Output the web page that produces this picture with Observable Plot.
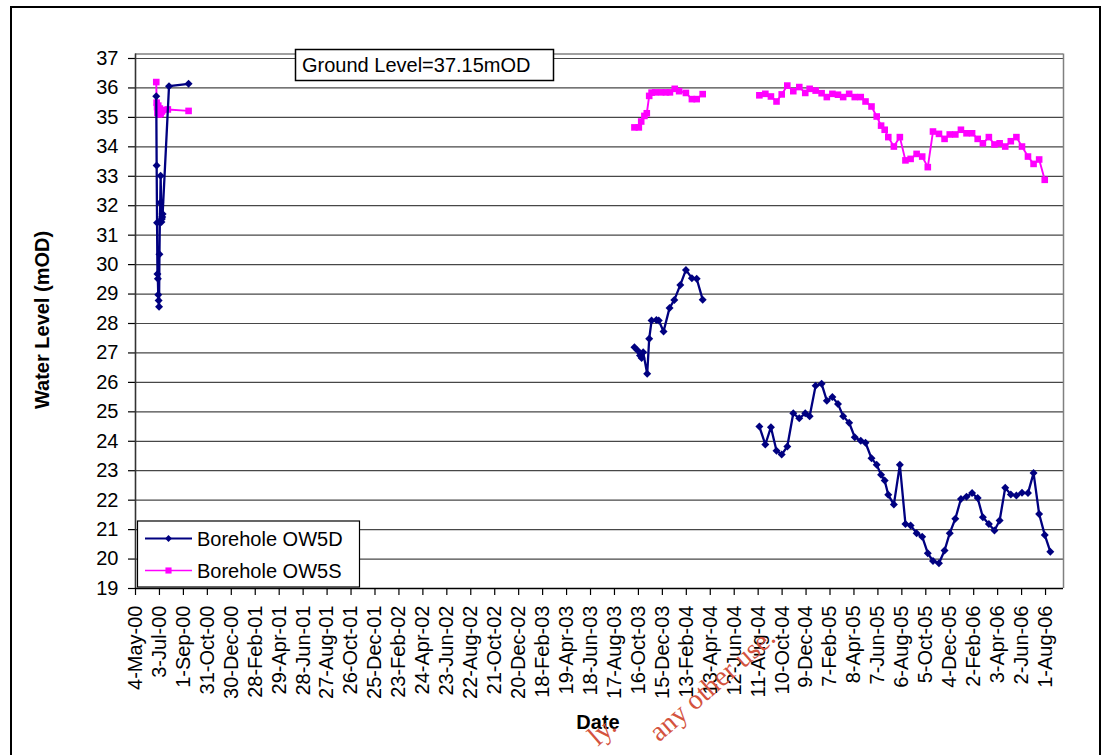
<!DOCTYPE html>
<html>
<head>
<meta charset="utf-8">
<script src="https://cdn.jsdelivr.net/npm/d3@7"></script>
<script src="https://cdn.jsdelivr.net/npm/@observablehq/plot@0.6"></script>
<style>
  body { margin: 0; background: #fff; }
  #wrap { position: relative; width: 1109px; height: 755px; overflow: hidden; background: #fff;
          font-family: "Liberation Sans", Arial, sans-serif; }
  #frame { position: absolute; left: 10px; top: 6px; width: 1091px; height: 820px;
           border: 2px solid #000; box-sizing: border-box; pointer-events: none; }
  #chart { position: absolute; left: 0; top: 0; }
  svg.overlay { position: absolute; left: 0; top: 0; pointer-events: none; }
</style>
</head>
<body>
<div id="wrap">
  <div id="chart"></div>
  <div id="frame"></div>
</div>
<script>
// ---- axis tick labels ----
const xTickLabels = ["4-May-00","3-Jul-00","1-Sep-00","31-Oct-00","30-Dec-00","28-Feb-01","29-Apr-01","28-Jun-01",
  "27-Aug-01","26-Oct-01","25-Dec-01","23-Feb-02","24-Apr-02","23-Jun-02","22-Aug-02","21-Oct-02","20-Dec-02",
  "18-Feb-03","19-Apr-03","18-Jun-03","17-Aug-03","16-Oct-03","15-Dec-03","13-Feb-04","13-Apr-04","12-Jun-04",
  "11-Aug-04","10-Oct-04","9-Dec-04","7-Feb-05","8-Apr-05","7-Jun-05","6-Aug-05","5-Oct-05","4-Dec-05",
  "2-Feb-06","3-Apr-06","2-Jun-06","1-Aug-06"];
const yTicks = [19,20,21,22,23,24,25,26,27,28,29,30,31,32,33,34,35,36,37];
const xDomain = ["2000-05-04", "2006-09-15"];
const yDomain = [19, 37.15];

// ---- Borehole OW5D ----
const ow5dDates2000 = ["2000-06-25","2000-06-26","2000-06-27","2000-06-28","2000-06-29","2000-06-30","2000-07-01",
  "2000-07-02","2000-07-03","2000-07-04","2000-07-05","2000-07-06","2000-07-08","2000-07-09","2000-07-10",
  "2000-07-11","2000-07-27","2000-09-14"];
const ow5dLevels2000 = [35.72,33.37,31.42,29.68,29.52,28.98,28.78,28.57,30.35,31.45,32.10,33.02,31.45,31.55,31.62,
  31.72,36.06,36.14];
const ow5dDates2003 = ["2003-10-06","2003-10-14","2003-10-20","2003-10-24","2003-10-28","2003-11-07","2003-11-12",
  "2003-11-18","2003-11-30","2003-12-06","2003-12-18","2004-01-02","2004-01-14","2004-01-29","2004-02-12",
  "2004-02-27","2004-03-10","2004-03-25"];
const ow5dLevels2003 = [27.19,27.08,26.91,26.83,27.02,26.29,27.48,28.10,28.12,28.10,27.73,28.53,28.80,29.31,29.82,
  29.54,29.52,28.81];
const ow5dDates2004 = ["2004-08-14","2004-08-29","2004-09-12","2004-09-26","2004-10-09","2004-10-23","2004-11-07",
  "2004-11-22","2004-12-07","2004-12-18","2005-01-02","2005-01-17","2005-01-30","2005-02-13","2005-02-27",
  "2005-03-12","2005-03-27","2005-04-10","2005-04-25","2005-05-07","2005-05-22","2005-06-04","2005-06-15",
  "2005-06-24","2005-07-03","2005-07-17","2005-08-01","2005-08-15","2005-08-28","2005-09-12","2005-09-26",
  "2005-10-10","2005-10-23","2005-11-07","2005-11-21","2005-12-04","2005-12-18","2006-01-01","2006-01-15",
  "2006-01-29","2006-02-12","2006-02-25","2006-03-12","2006-03-26","2006-04-08","2006-04-22","2006-05-06",
  "2006-05-20","2006-06-03","2006-06-18","2006-07-02","2006-07-16","2006-07-30","2006-08-13"];
const ow5dLevels2004 = [24.50,23.89,24.48,23.68,23.55,23.82,24.95,24.78,24.95,24.85,25.89,25.95,25.38,25.50,25.27,
  24.85,24.63,24.14,24.02,23.95,23.42,23.20,22.86,22.67,22.18,21.85,23.20,21.19,21.14,20.88,20.76,20.20,19.93,
  19.86,20.29,20.88,21.37,22.04,22.12,22.24,22.07,21.42,21.19,20.97,21.31,22.42,22.19,22.16,22.25,22.24,22.92,
  21.53,20.82,20.25];

// ---- Borehole OW5S ----
const ow5sDates2000 = ["2000-06-25","2000-06-26","2000-06-27","2000-06-28","2000-06-30","2000-07-02","2000-07-04",
  "2000-07-06","2000-07-09","2000-07-11","2000-07-24","2000-09-14"];
const ow5sLevels2000 = [36.20,35.50,35.35,35.15,35.40,35.10,35.30,35.12,35.20,35.25,35.27,35.22];
const ow5sDates2003 = ["2003-10-06","2003-10-17","2003-10-23","2003-10-31","2003-11-06","2003-11-12","2003-11-18",
  "2003-11-27","2003-12-12","2003-12-24","2004-01-03","2004-01-15","2004-01-26","2004-02-12","2004-02-27",
  "2004-03-10","2004-03-25"];
const ow5sLevels2003 = [34.66,34.66,34.86,35.05,35.14,35.73,35.84,35.85,35.85,35.85,35.85,35.97,35.89,35.83,35.62,
  35.62,35.79];
const ow5sDates2004 = ["2004-08-14","2004-08-29","2004-09-12","2004-09-26","2004-10-09","2004-10-23","2004-11-07",
  "2004-11-22","2004-12-07","2004-12-18","2005-01-02","2005-01-17","2005-01-30","2005-02-13","2005-02-27",
  "2005-03-12","2005-03-27","2005-04-10","2005-04-25","2005-05-07","2005-05-22","2005-06-04","2005-06-15",
  "2005-06-24","2005-07-03","2005-07-17","2005-08-01","2005-08-15","2005-08-28","2005-09-12","2005-09-26",
  "2005-10-10","2005-10-23","2005-11-07","2005-11-21","2005-12-04","2005-12-18","2006-01-01","2006-01-15",
  "2006-01-29","2006-02-12","2006-02-25","2006-03-12","2006-03-26","2006-04-08","2006-04-22","2006-05-06",
  "2006-05-20","2006-06-03","2006-06-18","2006-07-02","2006-07-16","2006-07-30"];
const ow5sLevels2004 = [35.75,35.80,35.71,35.54,35.78,36.08,35.89,36.03,35.83,35.97,35.91,35.82,35.69,35.80,35.77,
  35.69,35.80,35.69,35.69,35.54,35.37,35.03,34.72,34.58,34.33,34.01,34.33,33.54,33.59,33.76,33.67,33.31,34.52,
  34.44,34.27,34.42,34.42,34.58,34.46,34.46,34.27,34.12,34.33,34.08,34.12,34.01,34.19,34.33,34.01,33.67,33.42,
  33.57,32.88];

// ---- build tables ----
const parseISO = d3.utcParse("%Y-%m-%d");
const parseTick = d3.utcParse("%d-%b-%y");
function rows(dates, levels, seg) {
  return dates.map((d, i) => ({date: parseISO(d), level: levels[i], seg}));
}
const ow5d = [...rows(ow5dDates2000, ow5dLevels2000, "a"), ...rows(ow5dDates2003, ow5dLevels2003, "b"),
              ...rows(ow5dDates2004, ow5dLevels2004, "c")];
const ow5s = [...rows(ow5sDates2000, ow5sLevels2000, "a"), ...rows(ow5sDates2003, ow5sLevels2003, "b"),
              ...rows(ow5sDates2004, ow5sLevels2004, "c")];
const xTicks = xTickLabels.map(parseTick);
const xd = xDomain.map(parseISO);

const NAVY = "#000080", MAG = "#FF00FF";

const chart = Plot.plot({
  width: 1109,
  height: 755,
  marginLeft: 135,
  marginRight: 46,
  marginTop: 53.58,
  marginBottom: 167,
  style: {fontFamily: "'Liberation Sans', Arial, sans-serif", fontSize: "20px", color: "#000", background: "transparent"},
  x: {type: "utc", domain: xd},
  y: {domain: yDomain},
  marks: [
    Plot.gridY(yTicks, {stroke: "#000", strokeOpacity: 0.72, strokeWidth: 1.2}),
    Plot.ruleY([yDomain[1]], {stroke: "#808080", strokeWidth: 1.5}),
    Plot.ruleX([xd[1]], {stroke: "#808080", strokeWidth: 1.5}),
    Plot.axisY(yTicks, {tickSize: 7, tickPadding: 10, fontSize: 20, label: null, strokeWidth: 1.2}),
    Plot.axisX(xTicks, {tickSize: 7, tickPadding: 10, tickRotate: -90, fontSize: 20, label: null,
                        tickFormat: d3.utcFormat("%-d-%b-%y"), strokeWidth: 1.2}),
    Plot.ruleX([xd[0]], {stroke: "#333", strokeWidth: 1.6}),
    Plot.ruleY([yDomain[0]], {stroke: "#000", strokeWidth: 1.6}),
    Plot.line(ow5s, {x: "date", y: "level", z: "seg", stroke: MAG, strokeWidth: 1.9}),
    Plot.dot(ow5s, {x: "date", y: "level", symbol: "square2", r: 4.2, fill: MAG, stroke: "none"}),
    Plot.line(ow5d, {x: "date", y: "level", z: "seg", stroke: NAVY, strokeWidth: 2.3}),
    Plot.dot(ow5d, {x: "date", y: "level", symbol: "diamond2", r: 3.6, fill: NAVY, stroke: "none"})
  ]
});
document.getElementById("chart").appendChild(chart);

// ---- overlay: legend, annotation box, axis titles, watermark ----
const ov = d3.select("#wrap").append("svg").attr("class", "overlay")
  .attr("width", 1109).attr("height", 755)
  .style("font-family", "'Liberation Sans', Arial, sans-serif");

// Ground level box
ov.append("rect").attr("x", 295.5).attr("y", 49.5).attr("width", 258).attr("height", 31)
  .attr("fill", "#fff").attr("stroke", "#000").attr("stroke-width", 1.5);
ov.append("text").attr("x", 302).attr("y", 71.5).attr("font-size", 20).text("Ground Level=37.15mOD");

// Legend
ov.append("rect").attr("x", 137.5).attr("y", 521).attr("width", 222).attr("height", 66)
  .attr("fill", "#fff").attr("stroke", "#000").attr("stroke-width", 1.2);
const legendItems = [
  {label: "Borehole OW5D", color: NAVY, sym: d3.symbolDiamond2, size: 30, y: 538.5, w: 2},
  {label: "Borehole OW5S", color: MAG, sym: d3.symbolSquare2, size: 48, y: 570.5, w: 1.7}
];
for (const it of legendItems) {
  ov.append("line").attr("x1", 145).attr("x2", 192).attr("y1", it.y).attr("y2", it.y)
    .attr("stroke", it.color).attr("stroke-width", it.w);
  ov.append("path").attr("d", d3.symbol(it.sym, it.size)()).attr("transform", `translate(168.5,${it.y})`)
    .attr("fill", it.color);
  ov.append("text").attr("x", 197).attr("y", it.y).attr("dy", "0.36em").attr("font-size", 20).text(it.label);
}

// Axis titles
ov.append("text").attr("transform", "translate(49,320) rotate(-90)").attr("text-anchor", "middle")
  .attr("font-size", 20).attr("font-weight", "bold").text("Water Level (mOD)");
ov.append("text").attr("x", 598).attr("y", 729).attr("text-anchor", "middle")
  .attr("font-size", 20).attr("font-weight", "bold").text("Date");

// Watermark fragments (the visible ends of the page watermark)
const wm = ov.append("g").attr("font-family", "'Liberation Serif', 'Times New Roman', serif")
  .attr("font-size", 28).attr("fill", "#d4533e").attr("text-anchor", "end");
wm.append("text").attr("transform", "translate(618,729) rotate(-41)").text("ly.");
wm.append("text").attr("transform", "translate(777,640) rotate(-41)").text("any other use.");
</script>
</body>
</html>
